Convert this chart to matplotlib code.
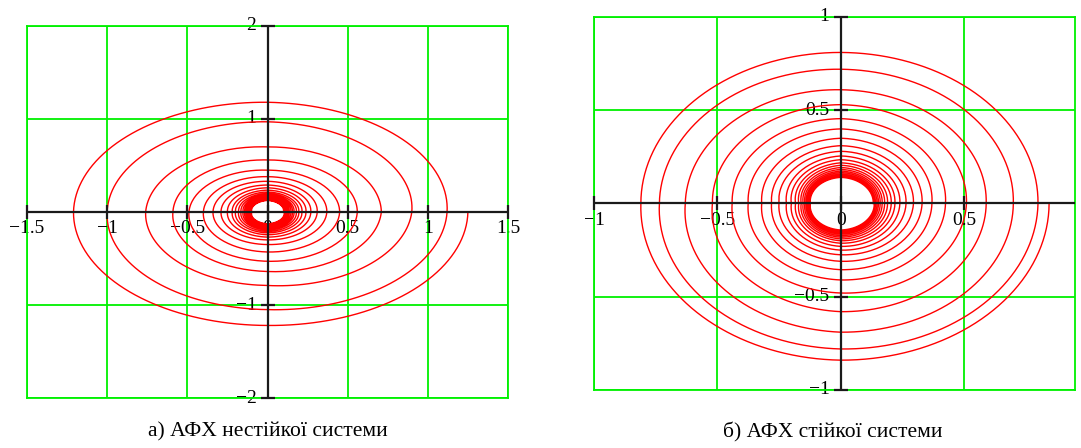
import numpy as np
import matplotlib
matplotlib.use("Agg")
import matplotlib.pyplot as plt

plt.rcParams["font.family"] = ["Liberation Serif", "DejaVu Serif"]

# Spiral crossings with the axes, outer loop first, |value| in data units.
# Order along the curve: right (+x) -> bottom (-y) -> left (-x) -> top (+y) -> next right
right_a = [1.25, 1.12, 0.90, 0.71, 0.56, 0.45, 0.37, 0.31, 0.27, 0.24, 0.215, 0.195,
           0.18, 0.165, 0.155, 0.145, 0.135, 0.128, 0.12, 0.114, 0.108, 0.103, 0.099]
bottom_a = [1.22, 1.05, 0.79, 0.64, 0.53, 0.43, 0.35, 0.30, 0.27, 0.245, 0.225, 0.21,
            0.195, 0.185, 0.175, 0.165, 0.158, 0.15, 0.144, 0.138, 0.133, 0.128]
left_a = [1.21, 1.00, 0.76, 0.59, 0.49, 0.40, 0.34, 0.29, 0.25, 0.22, 0.20, 0.18,
          0.165, 0.152, 0.142, 0.133, 0.125, 0.118, 0.112, 0.107, 0.102, 0.098]
top_a = [1.18, 0.97, 0.70, 0.56, 0.45, 0.38, 0.33, 0.29, 0.26, 0.235, 0.215, 0.20,
         0.188, 0.177, 0.168, 0.16, 0.152, 0.145, 0.139, 0.134, 0.129, 0.125]

right_b = [0.845, 0.80, 0.70, 0.59, 0.51, 0.425, 0.37, 0.33, 0.295, 0.265, 0.24, 0.22,
           0.205, 0.19, 0.178, 0.168, 0.16, 0.153, 0.147, 0.141, 0.136, 0.132]
bottom_b = [0.84, 0.78, 0.69, 0.58, 0.48, 0.41, 0.355, 0.31, 0.275, 0.25, 0.23, 0.213,
            0.20, 0.19, 0.181, 0.173, 0.165, 0.158, 0.152, 0.147, 0.142]
left_b = [0.81, 0.735, 0.63, 0.52, 0.44, 0.375, 0.32, 0.28, 0.25, 0.22, 0.20, 0.183,
          0.17, 0.16, 0.152, 0.145, 0.139, 0.134, 0.13, 0.126, 0.123]
top_b = [0.81, 0.72, 0.61, 0.53, 0.455, 0.40, 0.35, 0.31, 0.28, 0.255, 0.235, 0.218,
         0.205, 0.193, 0.183, 0.174, 0.166, 0.158, 0.151, 0.145, 0.14]

# axis ticks / labels of the two panels
xticks_a = [-1.5, -1, -0.5, 0, 0.5, 1, 1.5]
yticks_a = [-2, -1, 1, 2]
xticks_b = [-1, -0.5, 0, 0.5]
yticks_b = [-1, -0.5, 0.5, 1]

captions = ["а) АФХ нестійкої системи", "б) АФХ стійкої системи"]

RED = "#ff0000"
GREEN = "#00f000"
AXIS = "#1a1a1a"


def spiral(right, bottom, left, top, steps=40):
    """Clockwise spiral through the quarter-turn crossings."""
    n = min(len(right), len(bottom), len(left), len(top))
    radii = []
    for k in range(n):
        radii += [right[k], bottom[k], left[k], top[k]]
    if len(right) > n:
        radii.append(right[n])
    xs, ys = [], []
    t = np.linspace(0, 1, steps, endpoint=False)
    for k in range(len(radii) - 1):
        ang = -np.pi / 2 * (k + t)
        r = radii[k] + (radii[k + 1] - radii[k]) * t
        xs.append(r * np.cos(ang))
        ys.append(r * np.sin(ang))
    ang = -np.pi / 2 * (len(radii) - 1)
    xs.append([radii[-1] * np.cos(ang)])
    ys.append([radii[-1] * np.sin(ang)])
    return np.concatenate(xs), np.concatenate(ys)


def fmt(v):
    return f"{v:g}".replace("-", "\u2212")


def mathcad_panel(ax, xlim, ylim, xticks, yticks, curve):
    ax.set_xlim(*xlim)
    ax.set_ylim(*ylim)
    ax.set_xticks([])
    ax.set_yticks([])
    for s in ax.spines.values():
        s.set_color(GREEN)
        s.set_linewidth(1.3)
    # green grid (0 is covered by the black axes)
    for x in xticks:
        if x != 0:
            ax.axvline(x, color=GREEN, lw=1.3, zorder=0.5)
    for y in yticks:
        ax.axhline(y, color=GREEN, lw=1.3, zorder=0.5)

    # tick labels sit under the curve
    for x in xticks:
        ax.annotate(fmt(x), xy=(x, 0), xytext=(0, -6), textcoords="offset points",
                    ha="center", va="top", fontsize=14, zorder=1,
                    annotation_clip=False)
    for y in yticks:
        ax.annotate(fmt(y), xy=(0, y), xytext=(-8, 0), textcoords="offset points",
                    ha="right", va="center", fontsize=14, zorder=1,
                    annotation_clip=False)

    ax.plot(curve[0], curve[1], color=RED, lw=1.0, zorder=2)

    # black axes crossing at the origin, with short tick marks
    ax.axhline(0, color=AXIS, lw=1.6, zorder=3)
    ax.axvline(0, color=AXIS, lw=1.6, zorder=3)
    ax.plot(xticks, [0] * len(xticks), ls="none", marker="|", ms=10, mew=1.6,
            color=AXIS, zorder=3, clip_on=False)
    ax.plot([0] * len(yticks), yticks, ls="none", marker="_", ms=10, mew=1.6,
            color=AXIS, zorder=3, clip_on=False)


W, H = 1081, 448
fig = plt.figure(figsize=(W / 100, H / 100), dpi=100)
fig.patch.set_facecolor("white")

# panel boxes in pixels: left, top, right, bottom
ax_a = fig.add_axes([27 / W, (H - 398) / H, (508 - 27) / W, (398 - 26) / H])
ax_b = fig.add_axes([594 / W, (H - 390) / H, (1075 - 594) / W, (390 - 17) / H])

mathcad_panel(ax_a, (-1.5, 1.5), (-2, 2), xticks_a, yticks_a,
              spiral(right_a, bottom_a, left_a, top_a))
mathcad_panel(ax_b, (-1, 0.95), (-1, 1), xticks_b, yticks_b,
              spiral(right_b, bottom_b, left_b, top_b))

fig.text(268 / W, 1 - 432 / H, captions[0], ha="center", va="center", fontsize=15.5)
fig.text(833 / W, 1 - 432 / H, captions[1], ha="center", va="center", fontsize=15.5)

fig.savefig("out.png", dpi=100)
